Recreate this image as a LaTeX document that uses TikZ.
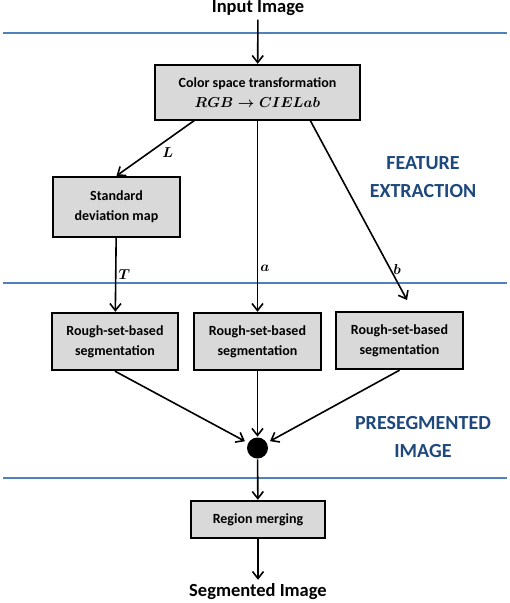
\documentclass[tikz,border=0pt]{standalone}
\usepackage{fontspec}
\setmainfont{Carlito}
\usetikzlibrary{arrows.meta}

\definecolor{boxgray}{HTML}{D9D9D9}
\definecolor{sepblue}{HTML}{4F81BD}
\definecolor{stageblue}{HTML}{1F497D}

\tikzset{
  box/.style={draw, line width=2.4pt, fill=boxgray, inner sep=0pt, align=center,
    font=\fontsize{14}{20}\selectfont\bfseries},
  sepline/.style={line width=2.6pt, sepblue},
  stage/.style={text=stageblue, align=center, font=\fontsize{20}{28}\selectfont\bfseries},
  io/.style={font=\fontsize{18.5}{22}\selectfont\bfseries},
  var/.style={font=\fontsize{15}{16}\selectfont\boldmath, inner sep=2pt},
  merge/.style={circle, fill, inner sep=0pt, minimum size=21pt},
}

\begin{document}
\begin{tikzpicture}[x=1pt, y=-1pt, >={Straight Barb[length=7pt,width=11pt,line width=1.6pt]}, line width=1.6pt]
    \useasboundingbox (0,0) rectangle (510,603);

    % separateurs
    \draw[sepline] (3,33) -- (507,33);
    \draw[sepline] (3,283) -- (507,283);
    \draw[sepline] (3,478) -- (507,478);

    \node[stage] (feat) at (423,177) {FEATURE\\EXTRACTION};
    \node[stage] (preseg) at (423,437) {PRESEGMENTED\\IMAGE};

    % blocs
    \node[io] (input) at (258,8) {Input Image};
    \node[box, minimum width=205pt, minimum height=55pt] (cst) at (257.5,92.5)
        {Color space transformation\\{\fontsize{15}{20}\selectfont\boldmath$RGB\rightarrow CIELab$}};
    \node[box, minimum width=127pt, minimum height=60pt] (sdm) at (116.5,207) {Standard\\deviation map};
    \node[box, minimum width=126pt, minimum height=57pt] (rs1) at (115,341.5) {Rough-set-based\\segmentation};
    \node[box, minimum width=127pt, minimum height=57pt] (rs2) at (257.5,341.5) {Rough-set-based\\segmentation};
    \node[box, minimum width=127pt, minimum height=57pt] (rs3) at (399.5,340.5) {Rough-set-based\\segmentation};
    \node[merge] (dot) at (257.5,448) {};
    \node[box, minimum width=134pt, minimum height=37pt] (rm) at (258,519.5) {Region merging};
    \node[io] (output) at (258,592) {Segmented Image};

    \coordinate (cstL) at (195,120);
    \coordinate (cstR) at (310,120);
    \coordinate (bIn) at (407,300);

    % canaux
    \draw[->] (input) -- (cst);
    \draw[->] (cstL) -- (sdm.north) node[var, pos=0.45, below right] {$L$};
    \draw[->] (sdm) -- (rs1) node[var, pos=0.5, right] {$T$};
    \draw[->] (cst.south -| rs2) -- (rs2) node[var, pos=0.77, right] {$a$};
    \draw[->] (cstR) -- (bIn) node[var, pos=0.83, right] {$b$};

    % fusion
    \draw[->, shorten >=3pt] (rs1.south) -- (dot);
    \draw[->] (rs2) -- (dot);
    \draw[->, shorten >=3pt] (rs3.south) -- (dot);
    \draw[->] (dot) -- (rm);
    \draw[->] (rm) -- (output);

\end{tikzpicture}
\end{document}
